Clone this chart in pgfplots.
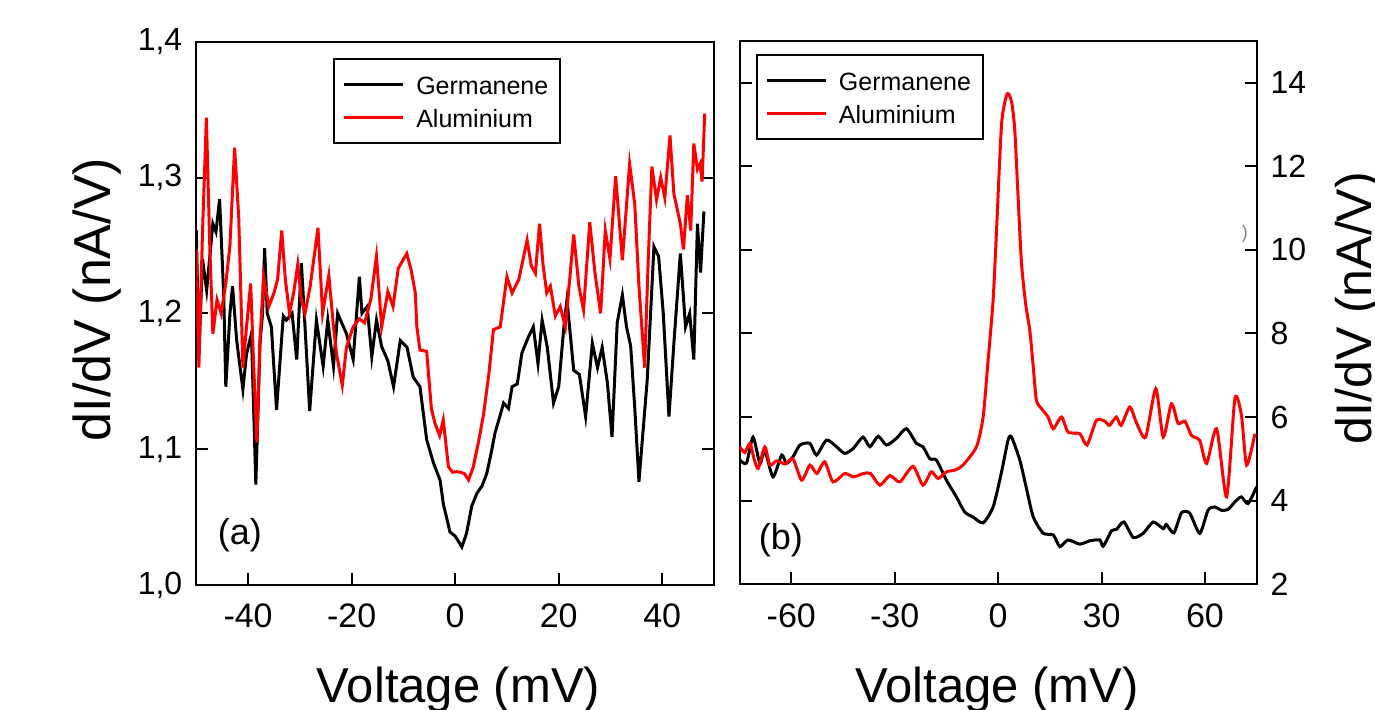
\documentclass[border=0pt]{standalone}
\usepackage{fontspec}
\setmainfont{Liberation Sans}
\usepackage{pgfplots}
\pgfplotsset{compat=1.18}
\newcommand{\fs}[1]{\fontsize{#1}{#1}\selectfont}
\pgfplotsset{
  myax/.style={
    scale only axis,
    axis line style={line width=1pt},
    every tick/.style={black, line width=1pt},
    major tick length=6pt,
    tick align=inside,
    xtick pos=left,
    ytick pos=both,
    clip=true,
    xticklabel style={font=\fs{17pt}, yshift=-6pt},
    yticklabel style={font=\fs{16pt}},
    legend cell align=left,
    legend image code/.code={\path[draw=none,fill=none] (0pt,-1pt) rectangle (41pt,1pt); \draw[##1] (5pt,0pt) -- (34.5pt,0pt);},
    legend style={anchor=north west, draw=black, line width=1pt, inner xsep=0pt, inner ysep=4.5pt,
      font=\fs{12.5pt}, row sep=0pt, column sep=0pt,
      nodes={inner sep=0pt, text height=12.9pt, text depth=3.6pt, text width=72pt, align=left}},
  }
}
\begin{document}
\begin{tikzpicture}
\path[use as bounding box] (0,0) rectangle (687.5pt,355pt);
% ---------------- panel (a)
\begin{axis}[myax,
  at={(98.15pt,62.5pt)}, anchor=south west,
  width=258.85pt, height=271.65pt,
  xmin=-50, xmax=50, ymin=1.0, ymax=1.4,
  xtick={-40,-20,0,20,40}, xticklabels={-40,-20,0,20,40},
  ytick={1.0,1.1,1.2,1.3,1.4}, yticklabels={{1,0},{1,1},{1,2},{1,3},{1,4}},
  yticklabel style={xshift=-3.5pt},
  xlabel={Voltage (mV)}, ylabel={dI/dV (nA/V)},
  xlabel style={font=\fs{24.5pt}, at={(axis description cs:0.5065,-0.2172)}, anchor=base},
  ylabel style={font=\fs{26pt}, at={(axis description cs:-0.1908,0.5255)}, anchor=center},
  legend style={at={(axis description cs:0.2646,0.9694)}},
]
\addplot[black, line width=1.5pt] coordinates {
(-50.0,1.261) (-49.5,1.17) (-48.8,1.24) (-48.0,1.217) (-46.8,1.266) (-46.2,1.26) (-45.5,1.284)
(-45.0,1.24) (-44.7,1.212) (-44.3,1.146) (-43.5,1.2) (-43.0,1.22) (-42.2,1.18) (-41.0,1.144)
(-40.3,1.17) (-39.35,1.185) (-38.5,1.074) (-37.7,1.178) (-37.2,1.2) (-36.8,1.248) (-36.3,1.2)
(-35.5,1.19) (-34.5,1.129) (-33.2,1.198) (-32.6,1.195) (-31.5,1.2) (-30.6,1.166) (-29.7,1.237)
(-29.0,1.19) (-28.1,1.128) (-26.8,1.195) (-25.5,1.161) (-24.6,1.195) (-23.5,1.161) (-22.7,1.2)
(-21.0,1.185) (-19.7,1.166) (-18.5,1.227) (-18.0,1.2) (-17.0,1.205) (-16.1,1.168) (-15.2,1.195)
(-14.2,1.1755) (-13.0,1.165) (-11.9,1.146) (-10.6,1.18) (-9.3,1.175) (-8.1,1.153) (-6.8,1.146)
(-5.5,1.107) (-4.2,1.09) (-2.9,1.077) (-2.3,1.06) (-1.0,1.039) (0.0,1.036) (1.3,1.028)
(2.2,1.038) (3.2,1.058) (4.2,1.0675) (5.2,1.073) (6.1,1.082) (7.0,1.098) (7.7,1.112)
(8.7,1.125) (9.35,1.134) (10.3,1.13) (11.0,1.146) (12.0,1.148) (12.9,1.171) (14.2,1.183)
(15.1,1.19) (16.0,1.163) (16.8,1.195) (17.8,1.175) (19.0,1.134) (20.0,1.146) (21.0,1.19)
(21.6,1.21) (22.9,1.158) (24.0,1.155) (25.2,1.124) (26.5,1.178) (27.5,1.16) (28.4,1.175)
(29.4,1.149) (30.3,1.109) (31.3,1.193) (32.3,1.2135) (33.1,1.19) (33.9,1.176) (34.7,1.13)
(35.5,1.076) (37.1,1.151) (38.4,1.249) (39.3,1.242) (40.2,1.2) (41.3,1.124) (42.25,1.178)
(43.5,1.244) (44.5,1.19) (45.3,1.2) (46.1,1.166) (46.8,1.266) (47.4,1.23) (48.05,1.275)
};
\addlegendentry{Germanene}
\addplot[red, line width=1.5pt] coordinates {
(-50.0,1.247) (-49.5,1.16) (-48.8,1.26) (-48.05,1.344) (-47.4,1.25) (-46.8,1.185) (-46.0,1.21)
(-45.2,1.2) (-44.3,1.222) (-43.5,1.25) (-42.6,1.322) (-41.8,1.27) (-41.0,1.16) (-40.3,1.19)
(-39.5,1.222) (-38.9,1.16) (-38.3,1.105) (-37.7,1.18) (-37.0,1.227) (-36.0,1.205) (-35.0,1.215)
(-34.3,1.225) (-33.5,1.261) (-32.8,1.225) (-32.0,1.2) (-31.2,1.215) (-30.4,1.236) (-29.7,1.21)
(-29.0,1.2) (-28.0,1.22) (-26.5,1.263) (-25.6,1.2) (-24.4,1.228) (-23.5,1.19) (-22.9,1.17)
(-21.8,1.147) (-21.0,1.175) (-19.7,1.19) (-18.5,1.196) (-17.5,1.193) (-16.3,1.21) (-15.2,1.242)
(-14.2,1.19) (-13.0,1.216) (-12.0,1.205) (-11.0,1.233) (-9.35,1.244) (-8.5,1.232) (-7.7,1.215)
(-7.4,1.19) (-6.8,1.173) (-5.5,1.172) (-4.6,1.13) (-3.9,1.119) (-3.0,1.11) (-2.3,1.1215)
(-1.3,1.087) (-0.5,1.083) (0.3,1.0834) (1.0,1.083) (1.8,1.082) (2.6,1.0773) (3.5,1.087)
(4.5,1.105) (5.5,1.126) (6.5,1.155) (7.4,1.188) (8.7,1.19) (10.0,1.227) (11.0,1.215)
(12.3,1.225) (13.9,1.254) (14.7,1.235) (15.5,1.2295) (16.3,1.266) (17.0,1.235) (17.7,1.215)
(18.4,1.22) (19.35,1.198) (20.3,1.205) (21.3,1.19) (22.9,1.258) (23.9,1.22) (24.8,1.2025)
(26.0,1.267) (27.0,1.23) (28.1,1.2) (29.0,1.261) (29.9,1.24) (31.0,1.301) (32.3,1.239)
(33.7,1.31) (34.7,1.28) (35.5,1.22) (36.6,1.16) (37.3,1.24) (38.0,1.308) (38.9,1.2835)
(39.7,1.3) (40.5,1.285) (41.5,1.331) (42.25,1.288) (43.5,1.266) (44.1,1.247) (44.85,1.287)
(45.5,1.261) (46.1,1.325) (46.8,1.306) (47.3,1.31) (47.7,1.297) (48.2,1.347)
};
\addlegendentry{Aluminium}
\node[font=\fs{18pt}] at (axis description cs:0.0844,0.092) {(a)};
\end{axis}
% ---------------- panel (b)
\begin{axis}[myax,
  at={(369.8pt,62.85pt)}, anchor=south west,
  width=258.5pt, height=271.8pt,
  xmin=-75, xmax=75, ymin=2, ymax=15,
  xtick={-60,-30,0,30,60}, xticklabels={-60,-30,0,30,60},
  ytick={2,4,6,8,10,12,14}, yticklabels={2,4,6,8,10,12,14},
  yticklabel pos=right,
  yticklabel style={xshift=3.5pt},
  xlabel={Voltage (mV)}, ylabel={dI/dV (nA/V)},
  xlabel style={font=\fs{24.5pt}, at={(axis description cs:0.498,-0.2172)}, anchor=base},
  ylabel style={font=\fs{25pt}, at={(axis description cs:1.197,0.508)}, anchor=center, rotate=0},
  legend style={at={(axis description cs:0.0317,0.975)}},
]
\addplot[black, line width=1.5pt, smooth, tension=0.4] coordinates {
(-74.9,4.97) (-73.0,4.9) (-71.1,5.52) (-69.1,4.89) (-67.7,5.2) (-65.3,4.57) (-62.8,5.09)
(-61.4,4.89) (-59.5,5.05) (-57.5,5.33) (-54.6,5.37) (-52.7,5.09) (-49.8,5.45) (-46.9,5.29)
(-44.5,5.13) (-42.0,5.25) (-39.2,5.52) (-37.2,5.29) (-34.8,5.54) (-32.4,5.33) (-29.5,5.49)
(-26.6,5.72) (-23.7,5.37) (-21.8,5.29) (-19.8,5.0) (-17.9,4.97) (-15.0,4.49) (-12.1,4.09)
(-9.7,3.73) (-7.3,3.61) (-4.35,3.47) (-1.45,3.85) (0.9,4.65) (2.9,5.45) (3.9,5.52)
(6.3,4.97) (8.2,4.3) (10.2,3.61) (13.1,3.22) (16.0,3.18) (17.9,2.9) (20.3,3.06)
(23.7,2.96) (26.6,3.04) (29.5,3.06) (30.5,2.91) (32.9,3.28) (34.3,3.31) (36.5,3.49)
(39.2,3.12) (42.1,3.22) (45.0,3.49) (47.9,3.33) (48.8,3.43) (51.0,3.23) (53.2,3.71)
(55.6,3.7) (58.5,3.22) (60.9,3.77) (62.8,3.85) (64.8,3.77) (66.7,3.79) (68.7,3.97)
(70.6,4.09) (72.5,3.93) (75.0,4.33)
};
\addlegendentry{Germanene}
\addplot[red, line width=1.5pt, smooth, tension=0.4] coordinates {
(-74.9,5.285) (-73.5,5.15) (-72.0,5.37) (-70.8,5.0) (-69.6,4.77) (-67.7,5.285) (-66.2,4.85)
(-64.3,4.95) (-61.8,4.88) (-59.5,5.0) (-57.0,4.49) (-54.6,4.85) (-52.6,4.65) (-50.3,4.93)
(-47.9,4.45) (-44.5,4.65) (-42.0,4.57) (-39.0,4.65) (-37.0,4.65) (-34.3,4.37) (-31.4,4.6)
(-28.5,4.45) (-24.7,4.82) (-21.8,4.37) (-19.4,4.69) (-17.4,4.53) (-15.0,4.69) (-12.6,4.73)
(-10.2,4.85) (-6.3,5.285) (-4.35,6.0) (-2.9,7.36) (-1.45,8.79) (-0.46,10.46) (1.0,13.0)
(2.4,13.68) (3.1,13.72) (4.0,13.5) (4.85,12.85) (5.8,11.25) (6.8,9.66) (8.0,8.7)
(9.2,8.07) (10.2,7.2) (11.1,6.4) (12.6,6.2) (14.5,6.0) (16.0,5.72) (18.4,6.0)
(20.3,5.64) (23.7,5.6) (25.8,5.33) (28.5,5.92) (31.0,5.9) (32.3,5.8) (34.3,6.0)
(35.7,5.8) (38.2,6.24) (40.2,5.85) (42.8,5.52) (45.75,6.68) (47.9,5.52) (50.3,6.32)
(52.2,5.85) (54.2,5.9) (56.1,5.56) (58.5,5.44) (60.5,4.89) (63.4,5.72) (66.3,4.09)
(68.7,6.44) (70.6,6.04) (72.1,4.85) (74.5,5.6)
};
\addlegendentry{Aluminium}
\node[font=\fs{18pt}] at (axis description cs:0.080,0.0815) {(b)};
\node[font=\fs{9pt}, text=gray] at (axis cs:71.6,10.39) {)};
\end{axis}
\end{tikzpicture}
\end{document}
